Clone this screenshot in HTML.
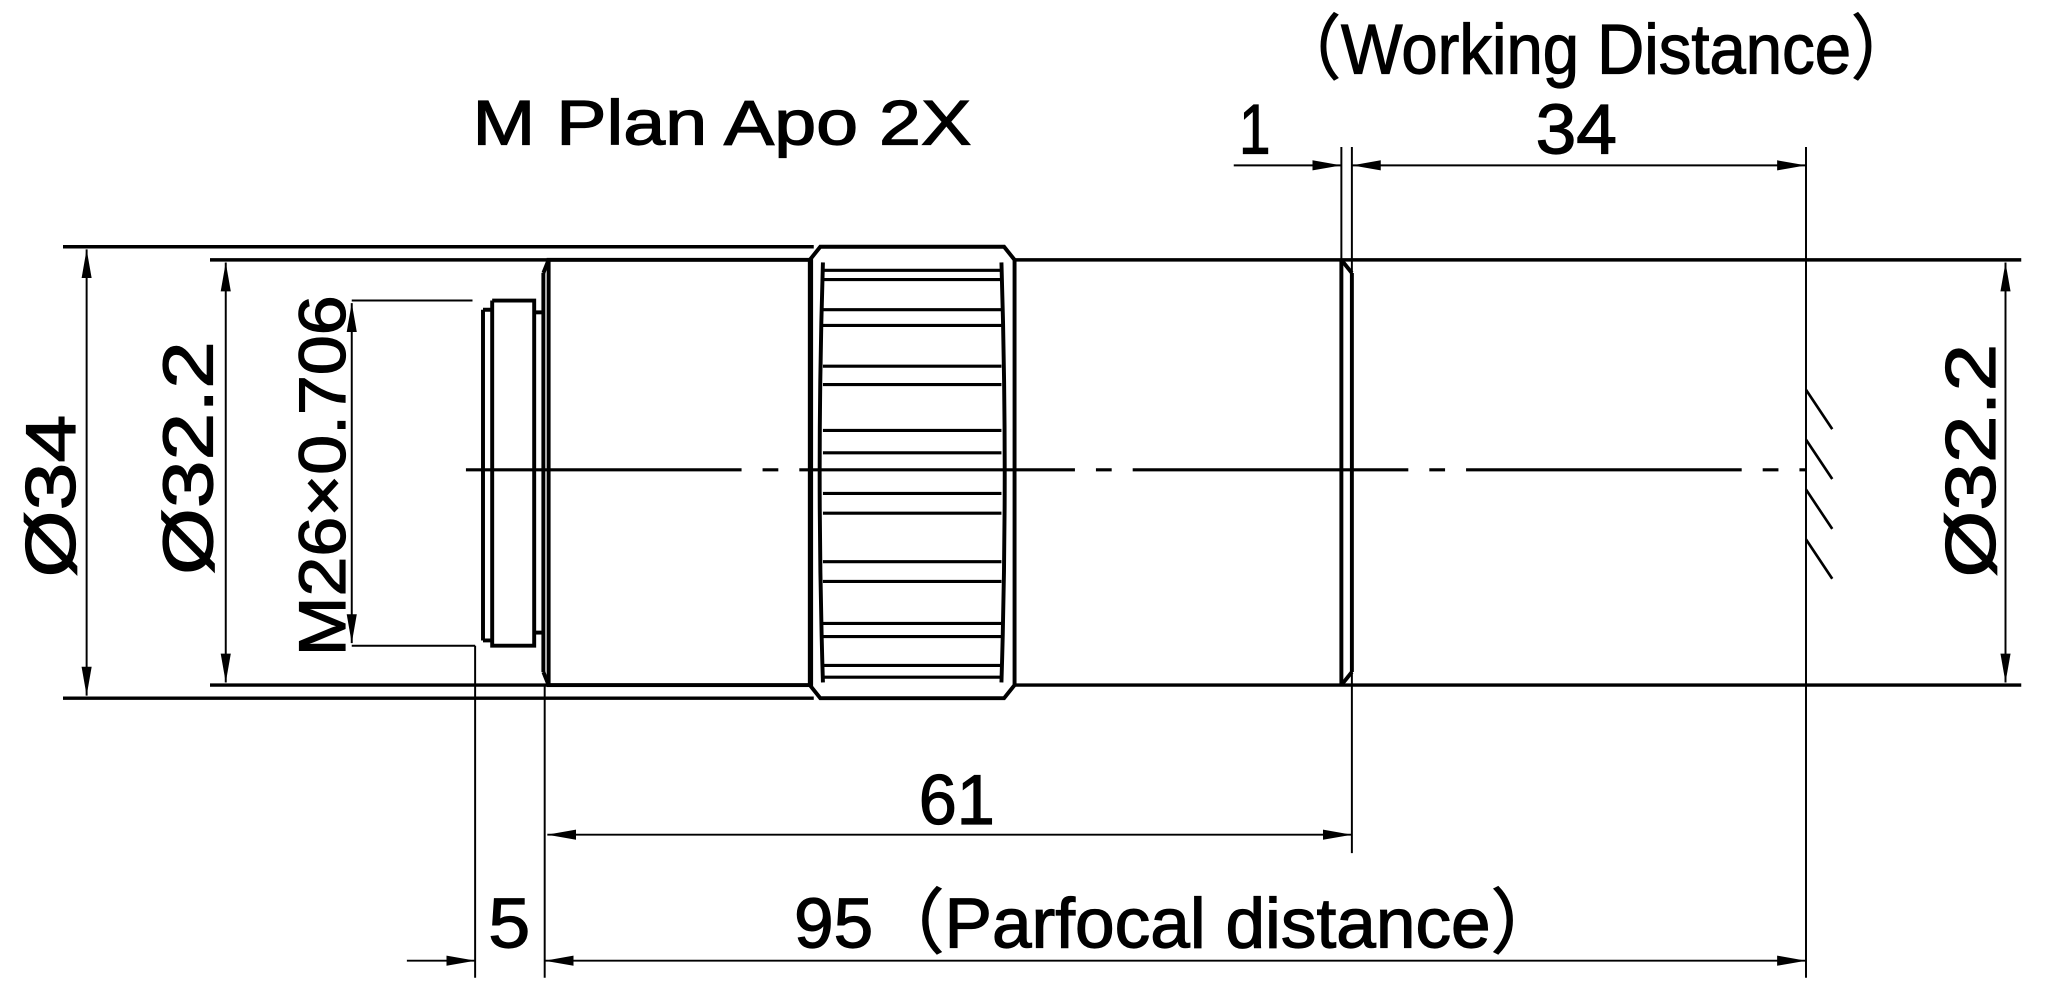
<!DOCTYPE html>
<html><head><meta charset="utf-8"><style>
html,body{margin:0;padding:0;background:#fff;}
svg{display:block;}
text{font-family:"Liberation Sans","Noto Sans CJK SC",sans-serif;fill:#000;stroke:#000;stroke-width:0.9;}
</style></head><body>
<svg width="2058" height="1004" viewBox="0 0 1568 765" preserveAspectRatio="none" xmlns="http://www.w3.org/2000/svg">
<defs>
<marker id="a" viewBox="0 0 20 8" refX="20" refY="4" markerWidth="22" markerHeight="9" markerUnits="userSpaceOnUse" orient="auto-start-reverse">
<path d="M0,0.5 L20,4 L0,7.5 z" fill="#000"/></marker>
</defs>
<rect width="1568" height="765" fill="#fff"/>
<g fill="none" stroke="#000">
<g stroke-width="2.6">
<line x1="48" y1="188" x2="620" y2="188"/>
<line x1="48" y1="532" x2="620" y2="532"/>
<line x1="160" y1="198" x2="418" y2="198"/>
<line x1="160" y1="522" x2="418" y2="522"/>
<line x1="773" y1="198" x2="1540" y2="198"/>
<line x1="773" y1="522" x2="1540" y2="522"/>
</g>
<g stroke-width="3">
<rect x="418" y="198" width="200" height="324"/>
<line x1="414" y1="208" x2="414" y2="512"/>
<line x1="414" y1="208" x2="418" y2="198"/>
<line x1="414" y1="512" x2="418" y2="522"/>
<path d="M368 236 L368 488 M375 229 L407 229 L407 492 L375 492 L375 229 M368 236 L375 236 M368 488 L375 488"/>
<line x1="407" y1="238" x2="414" y2="238"/>
<line x1="407" y1="482" x2="414" y2="482"/>
<path d="M625 188 L765 188 L773 198 L773 522 L765 532 L625 532 L617 522 L617 198 Z"/>
<path d="M627 200 Q622 360 627 520 M763 200 Q768 360 763 520"/>
<line x1="1022" y1="198" x2="1022" y2="522"/>
<line x1="1030" y1="208" x2="1030" y2="512"/>
<line x1="1022" y1="198" x2="1030" y2="208"/>
<line x1="1022" y1="522" x2="1030" y2="512"/>
</g>
<g stroke-width="2.4">
<line x1="627" y1="206" x2="763" y2="206"/><line x1="627" y1="213" x2="763" y2="213"/>
<line x1="627" y1="236" x2="763" y2="236"/><line x1="627" y1="248" x2="763" y2="248"/>
<line x1="627" y1="279" x2="763" y2="279"/><line x1="627" y1="293" x2="763" y2="293"/>
<line x1="627" y1="328" x2="763" y2="328"/><line x1="627" y1="345" x2="763" y2="345"/>
<line x1="627" y1="376" x2="763" y2="376"/><line x1="627" y1="391" x2="763" y2="391"/>
<line x1="627" y1="428" x2="763" y2="428"/><line x1="627" y1="443" x2="763" y2="443"/>
<line x1="627" y1="475" x2="763" y2="475"/><line x1="627" y1="485" x2="763" y2="485"/>
<line x1="627" y1="507" x2="763" y2="507"/><line x1="627" y1="516" x2="763" y2="516"/>
</g>
<path d="M355 358 H1376" stroke-width="2.4" stroke-dasharray="210 16 12 16"/>
<g stroke-width="1.5">
<line x1="66" y1="190" x2="66" y2="530" marker-start="url(#a)" marker-end="url(#a)"/>
<line x1="172" y1="200" x2="172" y2="520" marker-start="url(#a)" marker-end="url(#a)"/>
<line x1="268" y1="229" x2="360" y2="229"/>
<line x1="268" y1="492" x2="362" y2="492"/>
<line x1="268" y1="231" x2="268" y2="490" marker-start="url(#a)" marker-end="url(#a)"/>
<line x1="1528" y1="200" x2="1528" y2="520" marker-start="url(#a)" marker-end="url(#a)"/>
<line x1="1022" y1="112" x2="1022" y2="198"/>
<line x1="1030" y1="112" x2="1030" y2="650"/>
<line x1="1376" y1="112" x2="1376" y2="745"/>
<line x1="362" y1="492" x2="362" y2="745"/>
<line x1="415" y1="522" x2="415" y2="745"/>
<line x1="940" y1="126" x2="1022" y2="126" marker-end="url(#a)"/>
<line x1="1030" y1="126" x2="1376" y2="126" marker-start="url(#a)" marker-end="url(#a)"/>
<line x1="417" y1="636" x2="1030" y2="636" marker-start="url(#a)" marker-end="url(#a)"/>
<line x1="415" y1="732" x2="1376" y2="732" marker-start="url(#a)" marker-end="url(#a)"/>
<line x1="310" y1="732" x2="362" y2="732" marker-end="url(#a)"/>
</g>
<g stroke-width="2">
<line x1="1376" y1="297" x2="1396" y2="327"/>
<line x1="1376" y1="335" x2="1396" y2="365"/>
<line x1="1376" y1="373" x2="1396" y2="403"/>
<line x1="1376" y1="411" x2="1396" y2="441"/>
</g>
</g>
<text x="360" y="110" font-size="48" textLength="380" lengthAdjust="spacingAndGlyphs">M Plan Apo 2X</text>
<text x="972" y="56" font-size="54" textLength="488" lengthAdjust="spacingAndGlyphs">（Working Distance）</text>
<text x="944" y="117" font-size="54" textLength="24" lengthAdjust="spacingAndGlyphs">1</text>
<text x="1170" y="117" font-size="54" textLength="62" lengthAdjust="spacingAndGlyphs">34</text>
<text x="700" y="628" font-size="54" textLength="58" lengthAdjust="spacingAndGlyphs">61</text>
<text x="372" y="722" font-size="54" textLength="32" lengthAdjust="spacingAndGlyphs">5</text>
<text x="605" y="722" font-size="54" textLength="585" lengthAdjust="spacingAndGlyphs">95（Parfocal distance）</text>
<text transform="translate(57,440) rotate(-90)" font-size="54" textLength="124" lengthAdjust="spacingAndGlyphs">Ø34</text>
<text transform="translate(162,438) rotate(-90)" font-size="54" textLength="178" lengthAdjust="spacingAndGlyphs">Ø32.2</text>
<text transform="translate(263,500) rotate(-90)" font-size="50" textLength="275" lengthAdjust="spacingAndGlyphs">M26×0.706</text>
<text transform="translate(1520,440) rotate(-90)" font-size="54" textLength="178" lengthAdjust="spacingAndGlyphs">Ø32.2</text>
</svg>
</body></html>
